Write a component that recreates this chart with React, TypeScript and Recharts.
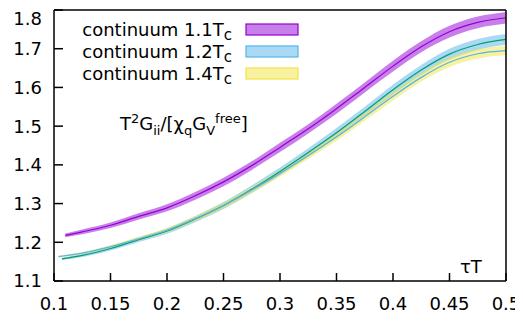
import { Area, ComposedChart, Line, XAxis, YAxis } from "recharts";

// 1.1 Tc
const purpleX = [0.11, 0.125, 0.15, 0.175, 0.2, 0.225, 0.25, 0.275, 0.3, 0.325, 0.35, 0.375, 0.4, 0.425, 0.45, 0.475, 0.5];
const purpleY = [1.218, 1.227, 1.244, 1.267, 1.289, 1.32, 1.356, 1.398, 1.445, 1.493, 1.545, 1.6, 1.655, 1.705, 1.744, 1.768, 1.78];
const purpleErr = [0.005, 0.006, 0.007, 0.008, 0.009, 0.01, 0.011, 0.011, 0.012, 0.012, 0.013, 0.013, 0.014, 0.014, 0.015, 0.015, 0.015];

// 1.2 Tc
const blueX = [0.107, 0.125, 0.15, 0.175, 0.2, 0.225, 0.25, 0.275, 0.3, 0.325, 0.35, 0.375, 0.4, 0.425, 0.45, 0.475, 0.5];
const blueY = [1.157, 1.166, 1.184, 1.207, 1.229, 1.26, 1.295, 1.337, 1.383, 1.432, 1.483, 1.538, 1.594, 1.645, 1.686, 1.711, 1.724];
const blueErr = [0.003, 0.004, 0.005, 0.006, 0.007, 0.008, 0.009, 0.01, 0.01, 0.011, 0.012, 0.012, 0.013, 0.013, 0.014, 0.014, 0.014];

// 1.4 Tc
const yellowX = [0.104, 0.125, 0.15, 0.175, 0.2, 0.225, 0.25, 0.275, 0.3, 0.325, 0.35, 0.375, 0.4, 0.425, 0.45, 0.475, 0.5];
const yellowY = [1.163, 1.172, 1.189, 1.209, 1.231, 1.261, 1.295, 1.335, 1.378, 1.424, 1.472, 1.524, 1.577, 1.626, 1.665, 1.687, 1.695];
const yellowErr = [0.003, 0.003, 0.004, 0.005, 0.006, 0.007, 0.008, 0.008, 0.009, 0.009, 0.01, 0.01, 0.011, 0.011, 0.012, 0.012, 0.012];

const xTicks = [0.1, 0.15, 0.2, 0.25, 0.3, 0.35, 0.4, 0.45, 0.5];
const yTicks = [1.1, 1.2, 1.3, 1.4, 1.5, 1.6, 1.7, 1.8];

const series = [
  { key: "p", label: "continuum 1.1T", xs: purpleX, ys: purpleY, errs: purpleErr, band: "#9400d3", line: "#9400d3" },
  { key: "b", label: "continuum 1.2T", xs: blueX, ys: blueY, errs: blueErr, band: "#56b4e9", line: "#009e73" },
  { key: "w", label: "continuum 1.4T", xs: yellowX, ys: yellowY, errs: yellowErr, band: "#f0e442", line: "#56b4e9" },
];

// one small table per series, no gaps
const seriesRows = series.map((s) =>
  s.xs.map((x, i) => ({ x, v: s.ys[i], band: [s.ys[i] - s.errs[i], s.ys[i] + s.errs[i]] }))
);

const font = "DejaVu Sans";
const W = 515;
const H = 316;
const TICK = 8;

export default function App() {
  return (
    <div style={{ position: "relative", width: W, height: H }}>
      <ComposedChart width={W} height={H} margin={{ top: 1, right: 16, bottom: 0, left: 0 }}>
        {series.map((s, k) => (
          <Area
            key={s.key + "Band"}
            data={seriesRows[k]}
            type="monotone"
            dataKey="band"
            stroke="none"
            fill={s.band}
            fillOpacity={0.5}
            isAnimationActive={false}
          />
        ))}
        {series.map((s, k) => (
          <Line
            key={s.key}
            data={seriesRows[k]}
            type="monotone"
            dataKey="v"
            stroke={s.line}
            strokeWidth={1.2}
            dot={false}
            isAnimationActive={false}
          />
        ))}
        <XAxis
          dataKey="x"
          type="number"
          domain={[0.1, 0.5]}
          ticks={xTicks}
          allowDataOverflow
          height={43}
          stroke="#000"
          strokeWidth={1.5}
          tickSize={-TICK}
          tickMargin={TICK + 16}
          tick={{ fill: "#000", fontSize: 18, fontFamily: font }}
        />
        <XAxis
          xAxisId="top"
          orientation="top"
          dataKey="x"
          type="number"
          domain={[0.1, 0.5]}
          ticks={xTicks}
          allowDataOverflow
          height={1}
          stroke="#000"
          strokeWidth={1.5}
          tickSize={-TICK}
          tick={false}
        />
        <YAxis
          type="number"
          domain={[1.1, 1.8]}
          ticks={yTicks}
          allowDataOverflow
          width={46}
          stroke="#000"
          strokeWidth={1.5}
          tickSize={-TICK - 1}
          tickMargin={TICK + 1 + 12}
          tickFormatter={(v: number) => v.toFixed(1)}
          tick={{ fill: "#000", fontSize: 18, fontFamily: font }}
        />
        <YAxis
          yAxisId="right"
          orientation="right"
          type="number"
          domain={[1.1, 1.8]}
          ticks={yTicks}
          allowDataOverflow
          width={1}
          stroke="#000"
          strokeWidth={1.5}
          tickSize={-TICK - 1}
          tick={false}
        />
      </ComposedChart>
      <svg
        width={W}
        height={H}
        style={{ position: "absolute", left: 0, top: 0, pointerEvents: "none" }}
        fontFamily={font}
      >
        {series.map((s, i) => (
          <g key={s.key}>
            <text x={224} y={27.5 + i * 22} fontSize={18} textAnchor="end" fill="#000">
              {s.label}
              <tspan dy={4} fontSize={15}>c</tspan>
            </text>
            <rect
              x={238}
              y={16 + i * 22}
              width={52}
              height={11}
              fill={s.band}
              fillOpacity={0.5}
              stroke={s.band}
              strokeWidth={1.2}
            />
          </g>
        ))}
        <text x={112} y={122} fontSize={18} fill="#000">
          T<tspan dy={-7} fontSize={13}>2</tspan>
          <tspan dy={7}>G</tspan>
          <tspan dy={5} fontSize={13}>ii</tspan>
          <tspan dy={-5}>/[χ</tspan>
          <tspan dy={5} fontSize={13}>q</tspan>
          <tspan dy={-5}>G</tspan>
          <tspan dy={5} fontSize={13}>V</tspan>
          <tspan dy={-12} fontSize={13}>free</tspan>
          <tspan dy={7}>]</tspan>
        </text>
        <text x={452} y={265} fontSize={18} fill="#000">
          τT
        </text>
      </svg>
    </div>
  );
}
